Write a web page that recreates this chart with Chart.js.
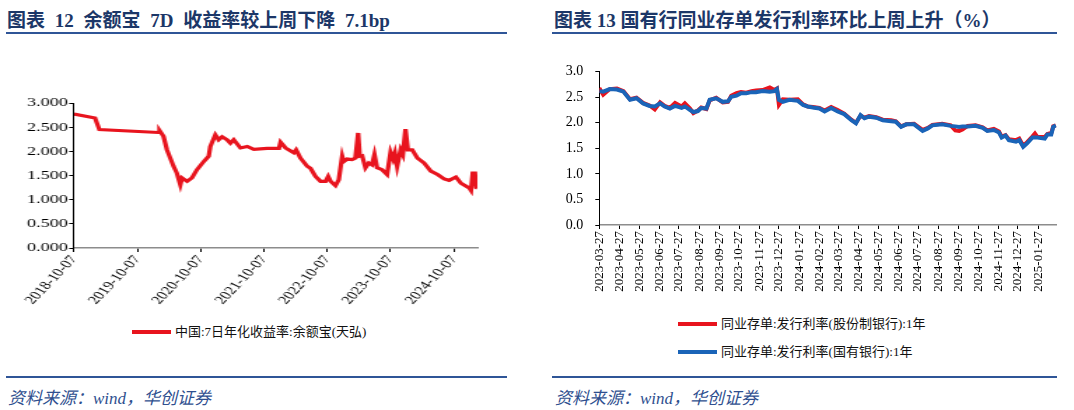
<!DOCTYPE html>
<html lang="zh">
<head>
<meta charset="UTF-8">
<title>余额宝7D收益率 / 国有行同业存单发行利率</title>
<script src="https://cdn.jsdelivr.net/npm/chart.js"></script>
<style>
    body {
        margin: 0;
        width: 1074px;
        height: 410px;
        position: relative;
        background: #fff;
        overflow: hidden;
        font-family: "Liberation Serif", "Noto Sans CJK SC", serif;
    }
    .title {
        position: absolute;
        top: 5px;
        font-size: 19px;
        font-weight: bold;
        color: #1c3768;
        white-space: nowrap;
    }
    .rule {
        position: absolute;
        height: 0;
        border-top: 2px solid #2f5597;
    }
    .source {
        position: absolute;
        top: 384px;
        font-size: 17px;
        font-style: italic;
        color: #2f4f8f;
        white-space: nowrap;
    }
    .legend {
        position: absolute;
        font-size: 13px;
        color: #111;
    }
    .legend div {
        height: 28px;
        line-height: 16px;
        white-space: nowrap;
    }
    .legend span.swatch {
        display: inline-block;
        width: 39px;
        height: 4px;
        vertical-align: middle;
        margin-right: 4px;
        position: relative;
        top: -1px;
    }
    #leftWrap {
        position: absolute;
        left: 0;
        top: 80px;
        transform: scaleX(1.4);
        transform-origin: 0 0;
    }
    #rightChart {
        position: absolute;
        left: 547px;
        top: 50px;
    }
</style>
</head>
<body>

<div class="title" style="left:7px; word-spacing:5px">图表 12 余额宝 7D 收益率较上周下降 7.1bp</div>
<div class="title" style="left:554px">图表 13 国有行同业存单发行利率环比上周上升（%）</div>
<div class="rule" style="left:6px; width:501px; top:32px"></div>
<div class="rule" style="left:552px; width:505px; top:32px"></div>

<div id="leftWrap"><canvas id="leftChart" width="357" height="230"></canvas></div>
<canvas id="rightChart" width="527" height="260"></canvas>

<div class="legend" id="leftLegend" style="left:132px; top:324px"></div>
<div class="legend" id="rightLegend" style="left:678px; top:316px"></div>

<div class="rule" style="left:6px; width:501px; top:376px"></div>
<div class="rule" style="left:552px; width:505px; top:376px"></div>
<div class="source" style="left:8px">资料来源：wind，华创证券</div>
<div class="source" style="left:555px">资料来源：wind，华创证券</div>

<script>
// ---- 余额宝 7日年化收益率 ----
const yebName = '中国:7日年化收益率:余额宝(天弘)';
const yebDates = [
    '2018-10-07', '2019-02-05', '2019-03-02', '2020-02-06', '2020-02-12', '2020-03-06', '2020-03-26', '2020-05-03', '2020-05-22', '2020-06-11',
    '2020-06-21', '2020-07-20', '2020-08-17', '2020-09-15', '2020-10-24', '2020-11-22', '2020-12-01', '2020-12-30', '2021-01-18', '2021-02-07',
    '2021-03-08', '2021-03-27', '2021-04-15', '2021-05-24', '2021-07-02', '2021-08-09', '2021-10-25', '2022-01-01', '2022-01-10', '2022-02-08',
    '2022-03-28', '2022-04-10', '2022-05-05', '2022-06-13', '2022-07-02', '2022-07-31', '2022-08-29', '2022-09-27', '2022-10-12', '2022-10-26',
    '2022-11-23', '2022-12-12', '2023-01-01', '2023-01-10', '2023-01-30', '2023-02-27', '2023-03-18', '2023-04-03', '2023-04-12', '2023-04-26',
    '2023-05-15', '2023-06-03', '2023-06-22', '2023-07-06', '2023-07-21', '2023-08-19', '2023-09-17', '2023-10-07', '2023-10-22', '2023-11-01',
    '2023-11-14', '2023-12-04', '2023-12-17', '2024-01-01', '2024-01-15', '2024-02-09', '2024-03-10', '2024-04-17', '2024-05-26', '2024-07-04',
    '2024-08-11', '2024-09-09', '2024-10-18', '2024-11-16', '2025-01-03', '2025-01-13', '2025-01-23', '2025-02-05', '2025-02-12', '2025-02-19'
];
const yebRates = [
    2.77, 2.69, 2.45, 2.39, 2.43, 2.31, 2.03, 1.69, 1.55, 1.31,
    1.45, 1.38, 1.45, 1.62, 1.79, 1.90, 2.10, 2.34, 2.24, 2.30,
    2.24, 2.17, 2.24, 2.07, 2.10, 2.04, 2.06, 2.06, 2.19, 2.07,
    1.97, 2.03, 1.86, 1.69, 1.65, 1.48, 1.38, 1.38, 1.48, 1.38,
    1.29, 1.41, 1.90, 1.79, 1.84, 1.83, 1.86, 2.38, 1.90, 1.91,
    1.66, 1.76, 1.72, 1.93, 1.66, 1.62, 1.52, 1.98, 1.84, 1.96,
    1.69, 2.03, 1.93, 2.46, 2.03, 2.03, 1.86, 1.76, 1.59, 1.52,
    1.43, 1.40, 1.47, 1.34, 1.24, 1.19, 1.55, 1.55, 1.25, 1.24
];
const yebTicks = ['2018-10-07', '2019-10-07', '2020-10-07', '2021-10-07', '2022-10-07', '2023-10-07', '2024-10-07'];

// ---- 同业存单发行利率 1年 ----
const cdNames = ['同业存单:发行利率(股份制银行):1年', '同业存单:发行利率(国有银行):1年'];
const cdDates = [
    '2023-03-27', '2023-04-02', '2023-04-12', '2023-04-23', '2023-05-03', '2023-05-13', '2023-05-23', '2023-06-02', '2023-06-12', '2023-06-20',
    '2023-06-28', '2023-07-05', '2023-07-13', '2023-07-21', '2023-07-31', '2023-08-05', '2023-08-13', '2023-08-18', '2023-08-25', '2023-08-30',
    '2023-09-07', '2023-09-12', '2023-09-22', '2023-10-02', '2023-10-10', '2023-10-15', '2023-10-23', '2023-10-30', '2023-11-07', '2023-11-15',
    '2023-11-22', '2023-12-02', '2023-12-13', '2023-12-20', '2023-12-24', '2023-12-27', '2024-01-02', '2024-01-12', '2024-01-25', '2024-02-02',
    '2024-02-09', '2024-02-17', '2024-02-27', '2024-03-06', '2024-03-16', '2024-03-26', '2024-04-05', '2024-04-16', '2024-04-23', '2024-04-30',
    '2024-05-06', '2024-05-13', '2024-05-24', '2024-06-03', '2024-06-16', '2024-06-23', '2024-07-01', '2024-07-09', '2024-07-21', '2024-08-03',
    '2024-08-11', '2024-08-18', '2024-09-02', '2024-09-15', '2024-09-22', '2024-09-28', '2024-10-03', '2024-10-11', '2024-10-23', '2024-11-03',
    '2024-11-10', '2024-11-20', '2024-11-28', '2024-12-02', '2024-12-08', '2024-12-13', '2024-12-24', '2024-12-29', '2025-01-04', '2025-01-10',
    '2025-01-18', '2025-01-22', '2025-01-26', '2025-02-06', '2025-02-10', '2025-02-16', '2025-02-19', '2025-02-23'
];
const cdJointStock = [
    2.68, 2.55, 2.66, 2.67, 2.62, 2.46, 2.49, 2.39, 2.34, 2.26,
    2.40, 2.33, 2.29, 2.39, 2.32, 2.38, 2.28, 2.19, 2.24, 2.30,
    2.27, 2.44, 2.49, 2.40, 2.41, 2.53, 2.58, 2.60, 2.59, 2.62,
    2.63, 2.64, 2.69, 2.64, 2.67, 2.35, 2.46, 2.45, 2.46, 2.36,
    2.32, 2.31, 2.29, 2.24, 2.31, 2.25, 2.18, 2.06, 2.00, 2.14,
    2.10, 2.13, 2.11, 2.06, 2.05, 2.03, 1.93, 1.97, 1.98, 1.86,
    1.90, 1.96, 1.98, 1.95, 1.85, 1.84, 1.87, 1.94, 1.95, 1.91,
    1.85, 1.88, 1.83, 1.73, 1.76, 1.68, 1.66, 1.69, 1.55, 1.62,
    1.73, 1.79, 1.72, 1.72, 1.78, 1.80, 1.93, 1.95
];
const cdStateOwned = [
    2.62, 2.61, 2.66, 2.65, 2.61, 2.45, 2.48, 2.38, 2.33, 2.32,
    2.38, 2.32, 2.28, 2.33, 2.29, 2.32, 2.25, 2.21, 2.23, 2.29,
    2.28, 2.45, 2.48, 2.41, 2.42, 2.51, 2.53, 2.58, 2.58, 2.60,
    2.60, 2.62, 2.61, 2.62, 2.66, 2.45, 2.41, 2.45, 2.43, 2.35,
    2.32, 2.30, 2.28, 2.22, 2.29, 2.22, 2.17, 2.05, 1.99, 2.15,
    2.09, 2.12, 2.10, 2.05, 2.03, 2.02, 1.92, 1.97, 1.97, 1.84,
    1.89, 1.95, 1.97, 1.94, 1.93, 1.92, 1.93, 1.93, 1.94, 1.90,
    1.84, 1.86, 1.81, 1.71, 1.75, 1.66, 1.63, 1.66, 1.53, 1.60,
    1.71, 1.71, 1.71, 1.69, 1.77, 1.77, 1.92, 1.95
];
const cdTicks = [
    '2023-03-27', '2023-04-27', '2023-05-27', '2023-06-27', '2023-07-27', '2023-08-27', '2023-09-27', '2023-10-27',
    '2023-11-27', '2023-12-27', '2024-01-27', '2024-02-27', '2024-03-27', '2024-04-27', '2024-05-27', '2024-06-27',
    '2024-07-27', '2024-08-27', '2024-09-27', '2024-10-27', '2024-11-27', '2024-12-27', '2025-01-27'
];

const RED = '#e8141e';
const BLUE = '#1a64b8';

Chart.defaults.font.family = "'Liberation Serif', 'Times New Roman', serif";
Chart.defaults.color = '#000';

function toPoints(dates, values) {
    return dates.map((d, i) => ({ x: Date.parse(d), y: values[i] }));
}

function buildLegend(el, items) {
    items.forEach(it => {
        const row = document.createElement('div');
        const sw = document.createElement('span');
        sw.className = 'swatch';
        sw.style.background = it.color;
        row.appendChild(sw);
        row.appendChild(document.createTextNode(it.label));
        el.appendChild(row);
    });
}

// left chart (drawn narrow, then stretched like the original picture)
const leftChart = new Chart(document.getElementById('leftChart'), {
    type: 'line',
    data: {
        datasets: [{
            label: yebName,
            data: toPoints(yebDates, yebRates),
            borderColor: RED,
            borderWidth: 3.2,
            pointRadius: 0,
            tension: 0
        }]
    },
    options: {
        responsive: false,
        animation: false,
        layout: { padding: { top: 23, right: 16, left: 0, bottom: 0 } },
        plugins: { legend: { display: false }, tooltip: { enabled: false } },
        scales: {
            x: {
                type: 'linear',
                min: Date.parse('2018-10-07'),
                max: Date.parse('2025-02-19'),
                afterBuildTicks: s => { s.ticks = yebTicks.map(t => ({ value: Date.parse(t) })); },
                afterFit: s => { s.height = 62; },
                grid: { drawOnChartArea: false, tickLength: 4, color: '#000' },
                border: { color: '#8c8c8c', width: 1.5 },
                ticks: {
                    autoSkip: false,
                    minRotation: 55,
                    maxRotation: 55,
                    padding: 1,
                    font: { size: 12 },
                    callback: (v, i) => yebTicks[i]
                }
            },
            y: {
                min: 0,
                max: 3,
                afterFit: s => { s.width = 52.9; },
                grid: { drawOnChartArea: false, tickLength: 3.5, color: '#000' },
                border: { color: '#000', width: 1 },
                ticks: {
                    stepSize: 0.5,
                    padding: 1,
                    font: { size: 13 },
                    callback: v => v.toFixed(3)
                }
            }
        }
    }
});

const rightChart = new Chart(document.getElementById('rightChart'), {
    type: 'line',
    data: {
        datasets: [{
            label: cdNames[0],
            data: toPoints(cdDates, cdJointStock),
            borderColor: RED,
            borderWidth: 4,
            pointRadius: 0,
            tension: 0,
            order: 1
        }, {
            label: cdNames[1],
            data: toPoints(cdDates, cdStateOwned),
            borderColor: BLUE,
            borderWidth: 4,
            pointRadius: 0,
            tension: 0,
            order: 0
        }]
    },
    options: {
        responsive: false,
        animation: false,
        layout: { padding: { top: 21.7, right: 17.5, left: 0, bottom: 0 } },
        plugins: { legend: { display: false }, tooltip: { enabled: false } },
        scales: {
            x: {
                type: 'linear',
                min: Date.parse('2023-03-27'),
                max: Date.parse('2025-02-24'),
                afterBuildTicks: s => { s.ticks = cdTicks.map(t => ({ value: Date.parse(t) })); },
                afterFit: s => { s.height = 85; },
                grid: { drawOnChartArea: false, tickLength: 4, color: '#000' },
                border: { color: '#8c8c8c', width: 1.5 },
                ticks: {
                    autoSkip: false,
                    minRotation: 90,
                    maxRotation: 90,
                    padding: 2,
                    font: { size: 13 },
                    callback: (v, i) => cdTicks[i]
                }
            },
            y: {
                min: 0,
                max: 3,
                afterFit: s => { s.width = 52.3; },
                grid: { drawOnChartArea: false, tickLength: 4, color: '#000' },
                border: { color: '#000', width: 1 },
                ticks: {
                    stepSize: 0.5,
                    padding: 12,
                    font: { size: 14 },
                    callback: v => v.toFixed(1)
                }
            }
        }
    }
});

buildLegend(document.getElementById('leftLegend'),
    leftChart.data.datasets.map(d => ({ label: d.label, color: d.borderColor })));
buildLegend(document.getElementById('rightLegend'),
    rightChart.data.datasets.map(d => ({ label: d.label, color: d.borderColor })));
</script>
</body>
</html>
